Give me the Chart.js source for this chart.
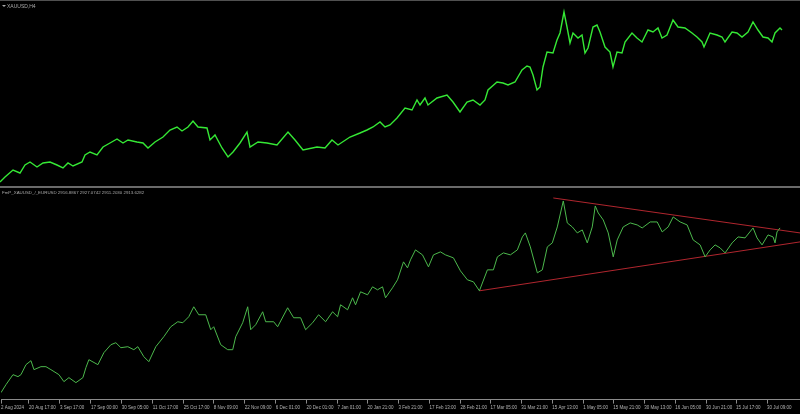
<!DOCTYPE html>
<html lang="en">
<head>
<meta charset="utf-8">
<title>XAUUSD,H4</title>
<script src="https://cdn.jsdelivr.net/npm/chart.js"></script>
<style>
    html, body { margin: 0; padding: 0; background: #000; }
    body { width: 800px; height: 414px; position: relative; overflow: hidden; font-family: "Liberation Sans", Arial, sans-serif; }
    .rule { position: absolute; left: 0; width: 800px; }
    #topRule { top: 0; height: 1px; background: #505050; }
    #midRule { top: 186px; height: 2px; background: #6a6a6a; }
    #topPane { position: absolute; left: 0; top: 2px; }
    #bottomPane { position: absolute; left: 0; top: 189px; }
    .caption { position: absolute; color: #a8a8a8; font-size: 5px; white-space: nowrap; }
    #topCaption { left: 7px; top: 3px; }
    #bottomCaption { left: 2px; top: 190px; font-size: 4.4px; }
    #marker { position: absolute; left: 2px; top: 5px; width: 0; height: 0;
              border-left: 2px solid transparent; border-right: 2px solid transparent; border-top: 2px solid #a8a8a8; }
</style>
</head>
<body>
    <div class="rule" id="topRule"></div>
    <canvas id="topPane" width="800" height="184"></canvas>
    <div class="rule" id="midRule"></div>
    <canvas id="bottomPane" width="800" height="225"></canvas>

    <div id="marker"></div>
    <div class="caption" id="topCaption">XAUUSD,H4</div>
    <div class="caption" id="bottomCaption">FmP_XAUUSD_/_EURUSD 2916.8867 2927.0742 2911.2030 2913.6282</div>

<script>
// H4 bar numbers (time axis) and the time labels MT shows under them
const tickBars = [0, 56, 118, 180, 242, 304, 366, 426, 488, 550, 612, 674, 734,
                  796, 858, 920, 980, 1042, 1104, 1166, 1226, 1288, 1350, 1412, 1472, 1534];
const tickLabels = ['2 Aug 2024', '20 Aug 17:00', '3 Sep 17:00', '17 Sep 00:00', '30 Sep 05:00',
                    '11 Oct 17:00', '25 Oct 17:00', '8 Nov 09:00', '22 Nov 09:00', '6 Dec 01:00',
                    '20 Dec 01:00', '7 Jan 01:00', '20 Jan 21:00', '3 Feb 21:00', '17 Feb 13:00',
                    '28 Feb 21:00', '17 Mar 05:00', '31 Mar 21:00', '15 Apr 13:00', '1 May 05:00',
                    '15 May 21:00', '30 May 13:00', '16 Jun 05:00', '30 Jun 21:00', '15 Jul 17:00',
                    '30 Jul 09:00'];

// top pane: XAUUSD
const goldBars = [
    0, 10, 26, 40, 50, 60, 74, 86, 100, 114,
    126, 136, 146, 164, 170, 180, 194, 206, 220, 234,
    246, 256, 274, 286, 296, 310, 326, 340, 354, 364,
    376, 386, 396, 414, 420, 430, 444, 456, 466, 480,
    494, 500, 516, 534, 554, 576, 590, 606, 634, 650,
    664, 676, 700, 720, 734, 746, 760, 770, 780, 794,
    810, 824, 834, 840, 850, 856, 874, 894, 906, 920,
    934, 946, 960, 970, 976, 994, 1006, 1016, 1030, 1044,
    1054, 1060, 1066, 1074, 1080, 1086, 1094, 1106, 1114, 1120,
    1128, 1134, 1140, 1146, 1156, 1164, 1170, 1176, 1186, 1194,
    1200, 1210, 1220, 1226, 1234, 1244, 1250, 1264, 1274, 1284,
    1296, 1306, 1316, 1324, 1334, 1346, 1356, 1370, 1384, 1394,
    1404, 1408, 1420, 1434, 1444, 1450, 1464, 1474, 1484, 1496,
    1506, 1516, 1526, 1536, 1544, 1550, 1560, 1564];
const goldUsd = [
    2388, 2418, 2460, 2442, 2490, 2508, 2478, 2502, 2508, 2490,
    2472, 2502, 2484, 2508, 2550, 2568, 2550, 2598, 2622, 2646,
    2622, 2640, 2628, 2622, 2592, 2628, 2658, 2700, 2718, 2694,
    2718, 2754, 2718, 2712, 2640, 2670, 2592, 2538, 2568, 2622,
    2688, 2598, 2628, 2622, 2610, 2688, 2640, 2580, 2598, 2592,
    2640, 2610, 2658, 2682, 2700, 2718, 2748, 2718, 2730, 2772,
    2832, 2820, 2880, 2850, 2892, 2850, 2892, 2910, 2868, 2808,
    2868, 2880, 2850, 2880, 2940, 2988, 2982, 2970, 2988, 3060,
    3084, 3078, 3030, 2940, 2958, 3078, 3168, 3162, 3240, 3282,
    3408, 3318, 3222, 3282, 3252, 3270, 3162, 3192, 3318, 3330,
    3288, 3198, 3168, 3078, 3168, 3162, 3228, 3282, 3252, 3228,
    3300, 3288, 3312, 3252, 3270, 3360, 3318, 3312, 3282, 3258,
    3228, 3198, 3282, 3270, 3258, 3228, 3288, 3282, 3258, 3288,
    3348, 3300, 3258, 3252, 3228, 3282, 3312, 3300];

// bottom pane: XAUUSD / EURUSD
const ratioBars = [
    0, 10, 24, 34, 40, 50, 60, 66, 80, 90,
    100, 116, 126, 136, 150, 164, 170, 176, 194, 206,
    220, 230, 240, 254, 266, 274, 286, 296, 310, 326,
    340, 354, 364, 376, 386, 396, 410, 420, 426, 440,
    454, 464, 470, 484, 494, 500, 510, 524, 530, 546,
    554, 574, 586, 600, 610, 624, 636, 650, 664, 674,
    680, 694, 704, 710, 720, 734, 744, 754, 764, 770,
    784, 794, 806, 814, 820, 830, 844, 856, 866, 880,
    890, 906, 920, 934, 946, 958, 974, 986, 994, 1006,
    1020, 1034, 1044, 1050, 1060, 1074, 1084, 1094, 1104, 1114,
    1126, 1134, 1144, 1154, 1164, 1174, 1184, 1190, 1196, 1206,
    1216, 1226, 1234, 1246, 1260, 1274, 1284, 1300, 1314, 1324,
    1336, 1346, 1360, 1374, 1386, 1400, 1410, 1420, 1430, 1440,
    1450, 1464, 1476, 1490, 1506, 1514, 1524, 1536, 1546, 1550,
    1554, 1560];
const goldEur = [
    2110, 2150, 2200, 2190, 2200, 2250, 2270, 2225, 2240, 2240,
    2225, 2200, 2165, 2185, 2160, 2185, 2235, 2275, 2250, 2310,
    2350, 2360, 2335, 2340, 2325, 2340, 2290, 2265, 2340, 2390,
    2440, 2465, 2460, 2490, 2540, 2500, 2500, 2425, 2440, 2350,
    2325, 2325, 2390, 2460, 2540, 2425, 2450, 2515, 2465, 2465,
    2440, 2535, 2485, 2485, 2425, 2460, 2500, 2465, 2515, 2490,
    2550, 2525, 2585, 2550, 2615, 2600, 2640, 2625, 2640, 2585,
    2635, 2675, 2765, 2735, 2775, 2825, 2800, 2740, 2800, 2815,
    2800, 2785, 2720, 2675, 2665, 2620, 2725, 2725, 2790, 2810,
    2800, 2825, 2890, 2910, 2840, 2710, 2725, 2840, 2860, 2940,
    3070, 2960, 2940, 2910, 2925, 2860, 2940, 3045, 3010, 2975,
    2910, 2790, 2875, 2940, 2960, 2950, 2935, 2965, 2965, 2915,
    2940, 2990, 2965, 2950, 2875, 2850, 2790, 2825, 2850, 2835,
    2810, 2860, 2890, 2885, 2935, 2885, 2850, 2900, 2890, 2860,
    2915, 2935];

// triangle trend lines drawn on the bottom pane
const upperTrendBars = [1106, 1600];
const upperTrend = [3085, 2910];
const lowerTrendBars = [958, 1600];
const lowerTrend = [2620, 2865];

const toPoints = (xs, ys) => xs.map((x, i) => ({ x: x, y: ys[i] }));
const tickFont = { family: '"Liberation Sans", Arial, sans-serif', size: 4.5 };

new Chart(document.getElementById('topPane'), {
    type: 'line',
    data: {
        datasets: [{
            data: toPoints(goldBars, goldUsd),
            borderColor: '#35e835',
            borderWidth: 1.4,
            pointRadius: 0,
            tension: 0
        }]
    },
    options: {
        responsive: false,
        animation: false,
        events: [],
        layout: { padding: 0 },
        plugins: { legend: { display: false }, tooltip: { enabled: false } },
        scales: {
            x: { type: 'linear', min: 0, max: 1600, display: false },
            y: { min: 2364, max: 3468, display: false }
        }
    }
});

new Chart(document.getElementById('bottomPane'), {
    type: 'line',
    data: {
        datasets: [
            {
                data: toPoints(ratioBars, goldEur),
                borderColor: '#4cb84c',
                borderWidth: 1,
                pointRadius: 0,
                tension: 0
            },
            {
                data: toPoints(upperTrendBars, upperTrend),
                borderColor: '#b0262e',
                borderWidth: 1,
                pointRadius: 0
            },
            {
                data: toPoints(lowerTrendBars, lowerTrend),
                borderColor: '#b0262e',
                borderWidth: 1,
                pointRadius: 0
            }
        ]
    },
    options: {
        responsive: false,
        animation: false,
        events: [],
        layout: { padding: { top: 0, left: 0, right: 0, bottom: 3 } },
        plugins: { legend: { display: false }, tooltip: { enabled: false } },
        scales: {
            x: {
                type: 'linear',
                min: 0,
                max: 1600,
                afterBuildTicks: axis => { axis.ticks = tickBars.map(v => ({ value: v })); },
                grid: { drawOnChartArea: false, drawTicks: true, tickLength: 4, color: '#8a8a8a' },
                border: { display: true, color: '#8a8a8a' },
                ticks: {
                    autoSkip: false,
                    maxRotation: 0,
                    align: 'start',
                    padding: 1,
                    color: '#b4b4b4',
                    font: tickFont,
                    callback: v => tickLabels[tickBars.indexOf(v)]
                }
            },
            y: { min: 2075, max: 3130, display: false }
        }
    }
});
</script>
</body>
</html>
